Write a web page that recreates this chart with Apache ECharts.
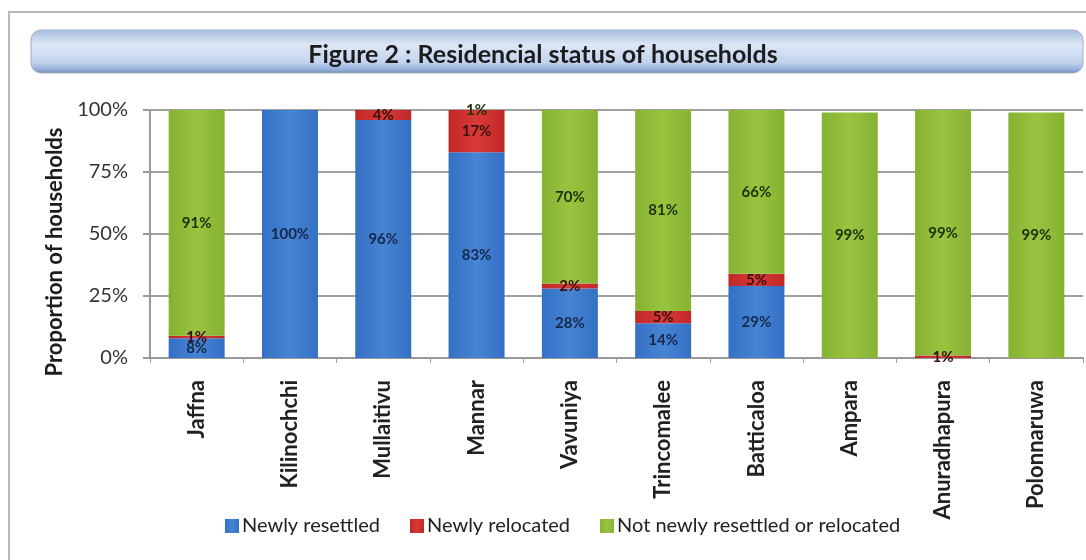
<!DOCTYPE html>
<html>
<head>
<meta charset="utf-8">
<script src="https://cdn.jsdelivr.net/npm/echarts@6/dist/echarts.min.js"></script>
<style>
  html, body { margin: 0; padding: 0; background: #fff; }
  #main { width: 1086px; height: 560px; }
</style>
</head>
<body>
<div id="main"></div>
<script>
var myChart = echarts.init(document.getElementById('main'));

var districts = ['Jaffna', 'Kilinochchi', 'Mullaitivu', 'Mannar', 'Vavuniya',
                 'Trincomalee', 'Batticaloa', 'Ampara', 'Anuradhapura', 'Polonnaruwa'];
var resettled = [8, 100, 96, 83, 28, 14, 29, 0, 0, 0];
var relocated = [1, 0, 4, 17, 2, 5, 5, 0, 1, 0];
var notNew    = [91, 0, 0, 1, 70, 81, 66, 99, 99, 99];
var yTicks = [0, 25, 50, 75, 100];

var font = 'Lato, "Open Sans", sans-serif';

function pct(p) {
    return p.value ? p.value + '%' : '';
}

function grad(c1, c2) {
    return new echarts.graphic.LinearGradient(0, 0, 1, 0, [
        { offset: 0, color: c1 },
        { offset: 0.5, color: c2 },
        { offset: 1, color: c1 }
    ]);
}

var labelStyle = {
    show: true,
    position: 'inside',
    formatter: pct,
    fontFamily: font,
    fontSize: 15,
    fontWeight: 'bold'
};

var option = {
    backgroundColor: '#fff',
    graphic: [
        {
            type: 'rect',
            shape: { x: 9, y: 12, width: 1100, height: 600 },
            style: { fill: 'none', stroke: '#b8b8b8', lineWidth: 2 },
            silent: true
        },
        {
            type: 'rect',
            shape: { x: 31, y: 30, width: 1052, height: 43, r: 10 },
            style: {
                fill: new echarts.graphic.LinearGradient(0, 0, 0, 1, [
                    { offset: 0, color: '#a6bee2' },
                    { offset: 0.35, color: '#dde7f5' },
                    { offset: 0.75, color: '#c2d3ee' },
                    { offset: 0.92, color: '#8fadda' },
                    { offset: 1, color: '#76859e' }
                ]),
                stroke: '#a0afc6',
                lineWidth: 1
            },
            silent: true
        },
        {
            type: 'text',
            x: 55,
            y: 252,
            rotation: Math.PI / 2,
            style: {
                text: 'Proportion of households',
                fontFamily: font,
                fontSize: 22,
                fontWeight: 'bold',
                fill: '#1c1c1c',
                align: 'center',
                verticalAlign: 'middle'
            },
            silent: true
        }
    ],
    title: {
        text: 'Figure 2 : Residencial status of households',
        left: 'center',
        top: 37,
        textStyle: {
            fontFamily: font,
            fontSize: 25,
            fontWeight: 'bold',
            color: '#1c1c1c'
        }
    },
    legend: {
        data: ['Newly resettled', 'Newly relocated', 'Not newly resettled or relocated'],
        left: 220,
        top: 511,
        itemWidth: 14,
        itemHeight: 14,
        itemGap: 30,
        icon: 'rect',
        textStyle: { fontFamily: font, fontSize: 20, color: '#222', padding: [0, 0, 0, -2] }
    },
    grid: {
        left: 150,
        right: 3,
        top: 110,
        bottom: 202,
        containLabel: false
    },
    xAxis: {
        type: 'category',
        data: districts,
        axisLine: { lineStyle: { color: '#999', width: 2 } },
        axisTick: { show: true, length: 5, lineStyle: { color: '#999' } },
        axisLabel: {
            rotate: 90,
            margin: 22,
            fontFamily: font,
            fontSize: 22,
            fontWeight: 'bold',
            color: '#222'
        }
    },
    yAxis: {
        type: 'value',
        min: 0,
        max: 100,
        interval: 25,
        axisLine: { show: true, lineStyle: { color: '#999', width: 2 } },
        axisTick: { show: true, length: 7, lineStyle: { color: '#999', width: 2 } },
        splitLine: { lineStyle: { color: '#a0a0a0', width: 2 } },
        axisLabel: {
            margin: 22,
            fontFamily: font,
            fontSize: 20,
            color: '#333',
            formatter: function (v) {
                return yTicks.indexOf(v) >= 0 ? v + '%' : '';
            }
        }
    },
    series: [
        {
            name: 'Newly resettled',
            type: 'bar',
            stack: 'all',
            barWidth: '60%',
            itemStyle: { color: grad('#3470c4', '#4684d4') },
            label: Object.assign({}, labelStyle, { color: '#16284a' }),
            data: resettled
        },
        {
            name: 'Newly relocated',
            type: 'bar',
            stack: 'all',
            itemStyle: { color: grad('#c02828', '#d83a36') },
            label: Object.assign({}, labelStyle, { color: '#3a1010' }),
            data: relocated
        },
        {
            name: 'Not newly resettled or relocated',
            type: 'bar',
            stack: 'all',
            itemStyle: { color: grad('#86b232', '#98c440') },
            label: Object.assign({}, labelStyle, { color: '#1e3008' }),
            data: notNew
        }
    ]
};
myChart.setOption(option);
</script>
</body>
</html>
